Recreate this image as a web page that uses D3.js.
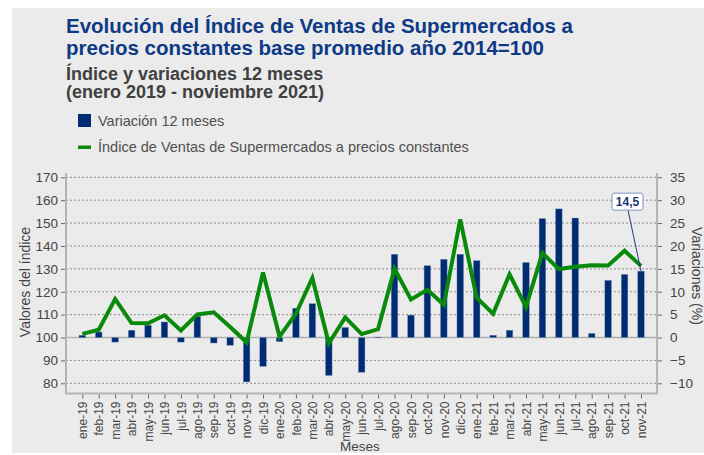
<!DOCTYPE html>
<html>
<head>
<meta charset="utf-8">
<script src="https://cdn.jsdelivr.net/npm/d3@7"></script>
<style>
  body { margin: 0; background: #fff; }
  svg { display: block; font-family: "Liberation Sans", Arial, sans-serif; }
</style>
</head>
<body>
<div id="root"></div>
<script>
var months = ['ene-19','feb-19','mar-19','abr-19','may-19','jun-19','jul-19','ago-19','sep-19','oct-19','nov-19','dic-19',
  'ene-20','feb-20','mar-20','abr-20','may-20','jun-20','jul-20','ago-20','sep-20','oct-20','nov-20','dic-20',
  'ene-21','feb-21','mar-21','abr-21','may-21','jun-21','jul-21','ago-21','sep-21','oct-21','nov-21'];

var variacion = [0.5, 1.2, -1.0, 1.6, 2.7, 3.4, -1.0, 4.6, -1.2, -1.7,
  -9.7, -6.3, -0.9, 6.4, 7.4, -8.3, 2.2, -7.6, 0.1, 18.2,
  4.9, 15.7, 17.1, 18.2, 16.8, 0.5, 1.6, 16.4, 26.0, 28.1,
  26.1, 0.9, 12.5, 13.8, 14.5];

var indice = [101.6, 103.4, 116.8, 106.3, 106.2, 109.7, 103.1, 110.1, 111.0, 104.6,
  97.9, 128.4, 100.4, 110.4, 126.0, 97.5, 108.8, 101.5, 103.7, 130.1,
  116.6, 120.9, 114.3, 151.6, 117.4, 110.4, 127.6, 113.4, 136.9, 129.9,
  130.9, 131.6, 131.5, 137.9, 131.3];

var leftTicks = [80, 90, 100, 110, 120, 130, 140, 150, 160, 170];
var rightTicks = [-10, -5, 0, 5, 10, 15, 20, 25, 30, 35];
var lastLabel = '14,5';

var width = 704, height = 455;
var blue = '#002c72', green = '#0a8a0a', grey = '#444';

var svg = d3.select('#root')
  .append('svg')
    .attr('width', width)
    .attr('height', height);

// panel background
svg.append('rect')
  .attr('x', 12).attr('y', 8)
  .attr('width', width - 12).attr('height', 445)
  .attr('fill', '#ebebeb');

// titles
var titles = [
  { t: 'Evolución del Índice de Ventas de Supermercados a', y: 33, size: 20.5, color: '#0d3a86' },
  { t: 'precios constantes base promedio año 2014=100', y: 55, size: 20.5, color: '#0d3a86' },
  { t: 'Índice y variaciones 12 meses', y: 79.5, size: 18, color: '#404040' },
  { t: '(enero 2019 - noviembre 2021)', y: 98, size: 18, color: '#404040' }
];
svg.selectAll('.title')
  .data(titles)
  .enter()
  .append('text')
    .attr('class', 'title')
    .attr('x', 66)
    .attr('y', d => d.y)
    .attr('font-size', d => d.size + 'px')
    .attr('font-weight', 'bold')
    .attr('fill', d => d.color)
    .text(d => d.t);

// legend
svg.append('rect')
  .attr('x', 78).attr('y', 114)
  .attr('width', 13).attr('height', 13)
  .attr('fill', blue);
svg.append('text')
  .attr('x', 98).attr('y', 126)
  .attr('font-size', '14.5px').attr('fill', '#505050')
  .text('Variación 12 meses');
svg.append('rect')
  .attr('x', 78).attr('y', 145.5)
  .attr('width', 13).attr('height', 3.5)
  .attr('fill', green);
svg.append('text')
  .attr('x', 98).attr('y', 152)
  .attr('font-size', '14.5px').attr('fill', '#505050')
  .text('Índice de Ventas de Supermercados a precios constantes');

// scales
var plotLeft = 66, plotRight = 657, plotBottom = 393.5;

var xScale = d3.scalePoint()
  .domain(months)
  .range([82.3, 641]);

var yLeft = d3.scaleLinear()
  .domain([80, 170])
  .range([383.3, 177.3]);

var yRight = d3.scaleLinear()
  .domain([-10, 35])
  .range([383.3, 177.3]);

// gridlines
svg.append('g')
  .selectAll('line')
  .data(leftTicks.filter(t => t !== 100))
  .enter()
  .append('line')
    .attr('x1', plotLeft).attr('x2', plotRight)
    .attr('y1', d => yLeft(d)).attr('y2', d => yLeft(d))
    .attr('stroke', '#8c8c8c')
    .attr('stroke-width', 1)
    .attr('stroke-dasharray', '2,2');

// zero line
svg.append('line')
  .attr('x1', plotLeft).attr('x2', plotRight)
  .attr('y1', yLeft(100)).attr('y2', yLeft(100))
  .attr('stroke', '#b0b0b0')
  .attr('stroke-width', 1.5);

// axis lines
svg.append('path')
  .attr('d', 'M' + plotLeft + ',173V' + plotBottom + 'H' + plotRight + 'V173')
  .attr('fill', 'none')
  .attr('stroke', '#b4b4b4')
  .attr('stroke-width', 2);

// left axis
var yAxisLeft = d3.axisLeft(yLeft)
  .tickValues(leftTicks)
  .tickSize(4)
  .tickPadding(3);
var gl = svg.append('g')
  .attr('transform', 'translate(' + (plotLeft - 1) + ',0)')
  .call(yAxisLeft);
gl.select('.domain').remove();
gl.selectAll('line').attr('stroke', '#666');
gl.selectAll('text')
  .attr('font-family', '"Liberation Sans", Arial, sans-serif')
  .attr('font-size', '13.5px')
  .attr('fill', grey);

// right axis
var yAxisRight = d3.axisRight(yRight)
  .tickValues(rightTicks)
  .tickSize(4)
  .tickPadding(8);
var gr = svg.append('g')
  .attr('transform', 'translate(' + (plotRight + 1) + ',0)')
  .call(yAxisRight);
gr.select('.domain').remove();
gr.selectAll('line').attr('stroke', '#666');
gr.selectAll('text')
  .attr('font-family', '"Liberation Sans", Arial, sans-serif')
  .attr('font-size', '13.5px')
  .attr('fill', grey);

// x axis
var xAxis = d3.axisBottom(xScale)
  .tickSize(4)
  .tickPadding(3);
var gx = svg.append('g')
  .attr('transform', 'translate(0,' + (plotBottom + 1) + ')')
  .call(xAxis);
gx.select('.domain').remove();
gx.selectAll('line').attr('stroke', '#666');
gx.selectAll('text')
  .attr('font-family', '"Liberation Sans", Arial, sans-serif')
  .attr('font-size', '12px')
  .attr('fill', grey)
  .attr('text-anchor', 'end')
  .attr('transform', 'rotate(-90)')
  .attr('x', -7)
  .attr('y', 0)
  .attr('dy', '0.35em');

// axis titles
svg.append('text')
  .attr('transform', 'translate(30,282) rotate(-90)')
  .attr('text-anchor', 'middle')
  .attr('font-size', '14px')
  .attr('fill', grey)
  .text('Valores del índice');
svg.append('text')
  .attr('transform', 'translate(692,276) rotate(90)')
  .attr('text-anchor', 'middle')
  .attr('font-size', '14px')
  .attr('fill', grey)
  .text('Variaciones (%)');
svg.append('text')
  .attr('x', 360).attr('y', 451)
  .attr('text-anchor', 'middle')
  .attr('font-size', '13.5px')
  .attr('fill', grey)
  .text('Meses');

// bars
var barW = 6.6;
svg.append('g')
  .selectAll('rect')
  .data(variacion)
  .enter()
  .append('rect')
    .attr('x', (d, i) => xScale(months[i]) - barW / 2)
    .attr('y', d => yRight(Math.max(d, 0)))
    .attr('width', barW)
    .attr('height', d => Math.max(Math.abs(yRight(d) - yRight(0)), 0.6))
    .attr('fill', blue)
    .attr('stroke', '#7f95c0')
    .attr('stroke-width', 0.4);

// line
var line = d3.line()
  .x((d, i) => xScale(months[i]))
  .y(d => yLeft(d));

svg.append('path')
  .datum(indice)
  .attr('d', line)
  .attr('fill', 'none')
  .attr('stroke', green)
  .attr('stroke-width', 4)
  .attr('stroke-linejoin', 'miter');

// annotation on last bar
var lastI = months.length - 1;
var lx = xScale(months[lastI]), ly = yRight(variacion[lastI]);
var bx = lx - 29, by = ly - 78;
svg.append('line')
  .attr('x1', bx + 16).attr('y1', by + 17)
  .attr('x2', lx).attr('y2', ly)
  .attr('stroke', '#1e3f7a')
  .attr('stroke-width', 1);
svg.append('rect')
  .attr('x', bx).attr('y', by)
  .attr('width', 31).attr('height', 17)
  .attr('rx', 2)
  .attr('fill', '#fff')
  .attr('stroke', '#7d95c2')
  .attr('stroke-width', 1);
svg.append('text')
  .attr('x', bx + 15.5).attr('y', by + 13)
  .attr('text-anchor', 'middle')
  .attr('font-size', '12px')
  .attr('font-weight', 'bold')
  .attr('fill', '#1a3570')
  .text(lastLabel);
</script>
</body>
</html>
